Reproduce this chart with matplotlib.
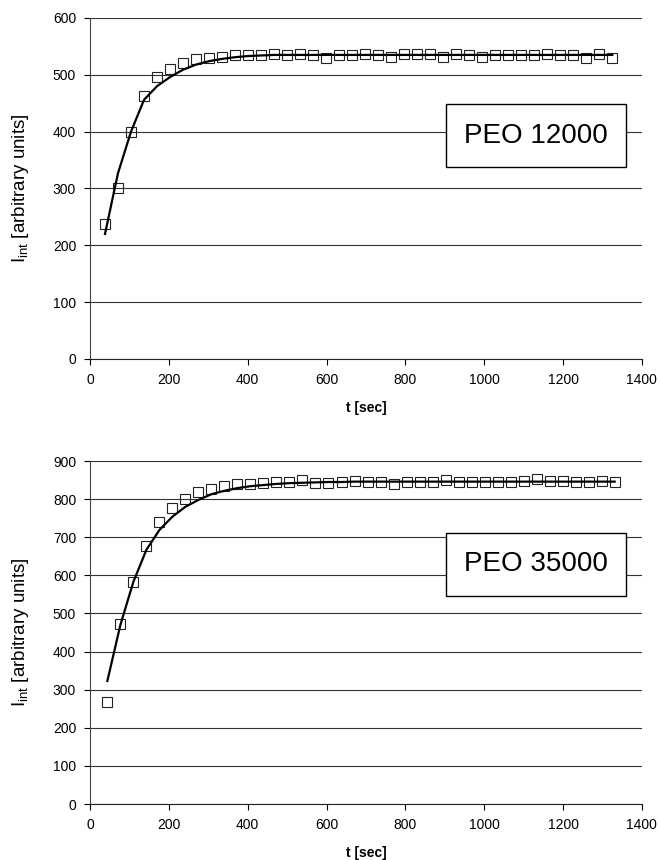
import matplotlib
matplotlib.use("Agg")
import matplotlib.pyplot as plt

plt.rcParams['font.family'] = ['Liberation Sans', 'DejaVu Sans']
plt.rcParams['mathtext.default'] = 'regular'

# PEO 12000
t_12k = [38, 71, 104, 137, 170, 203, 236, 269, 302, 335, 368, 401, 434, 467, 500,
         533, 566, 599, 632, 665, 698, 731, 764, 797, 830, 863, 896, 929, 962, 995,
         1028, 1061, 1094, 1127, 1160, 1193, 1226, 1259, 1292, 1325]
i_12k = [238, 300, 400, 463, 497, 510, 520, 527, 529, 532, 534, 534, 534, 536, 535,
         536, 534, 530, 535, 535, 537, 535, 531, 536, 536, 536, 532, 537, 535, 532,
         535, 535, 535, 535, 537, 535, 535, 530, 536, 530]
fit_12k = [220, 327, 400, 456, 480, 496, 509, 518, 524, 528, 531, 533, 534, 535, 535,
           535, 535, 535, 535, 535, 535, 535, 535, 535, 535, 535, 535, 535, 535, 535,
           535, 535, 535, 535, 535, 535, 535, 535, 535, 535]

# PEO 35000
t_35k = [44, 77, 110, 143, 176, 209, 242, 275, 308, 341, 374, 407, 440, 473, 506,
         539, 572, 605, 638, 671, 704, 737, 770, 803, 836, 869, 902, 935, 968, 1001,
         1034, 1067, 1100, 1133, 1166, 1199, 1232, 1265, 1298, 1331]
i_35k = [267, 473, 583, 677, 740, 778, 801, 818, 827, 835, 840, 840, 842, 846, 846,
         849, 842, 842, 846, 848, 846, 846, 841, 846, 846, 846, 850, 846, 846, 846,
         846, 846, 847, 853, 847, 847, 845, 845, 847, 845]
fit_35k = [323, 470, 583, 667, 719, 754, 780, 798, 813, 822, 829, 834, 837, 840, 842,
           843, 844, 845, 845, 846, 846, 846, 846, 846, 846, 846, 846, 846, 846, 846,
           846, 846, 846, 846, 846, 846, 846, 846, 846, 846]

x_ticks = [0, 200, 400, 600, 800, 1000, 1200, 1400]

fig = plt.figure(figsize=(6.59, 8.6), dpi=100)
ax1 = fig.add_axes([0.1366, 0.5826, 0.8374, 0.3965])
ax2 = fig.add_axes([0.1366, 0.0651, 0.8374, 0.3988])

panels = [
    (ax1, t_12k, i_12k, fit_12k, 600, 100, "PEO 12000", (0.808, 0.655)),
    (ax2, t_35k, i_35k, fit_35k, 900, 100, "PEO 35000", (0.808, 0.699)),
]

for ax, t, y, fit, ymax, step, label, pos in panels:
    ax.plot(t, y, linestyle='none', marker='s', markersize=7.5,
            markerfacecolor='none', markeredgecolor='#222222',
            markeredgewidth=0.8, zorder=3)
    ax.plot(t, fit, color='black', linewidth=1.6, zorder=4)
    ax.set_xlim(0, 1400)
    ax.set_ylim(0, ymax)
    ax.set_xticks(x_ticks)
    ax.set_yticks(range(0, ymax + 1, step))
    ax.grid(axis='y', color='#333333', linewidth=0.8)
    ax.set_axisbelow(True)
    for side in ['top', 'right']:
        ax.spines[side].set_visible(False)
    ax.spines['left'].set_color('#444444')
    ax.spines['bottom'].set_color('#222222')
    ax.tick_params(direction='out', length=4, width=0.8, labelsize=10, pad=6)
    ax.set_xlabel("t [sec]", fontsize=10, fontweight='bold', labelpad=10)
    ax.set_ylabel(r"I$_{int}$ [arbitrary units]", fontsize=13.5, labelpad=16)
    ax.text(pos[0], pos[1], label, transform=ax.transAxes, fontsize=20,
            ha='center', va='center', zorder=5,
            bbox=dict(boxstyle='square,pad=0.66', facecolor='white',
                      edgecolor='black', linewidth=1.0))

fig.savefig("out.png", dpi=100)
